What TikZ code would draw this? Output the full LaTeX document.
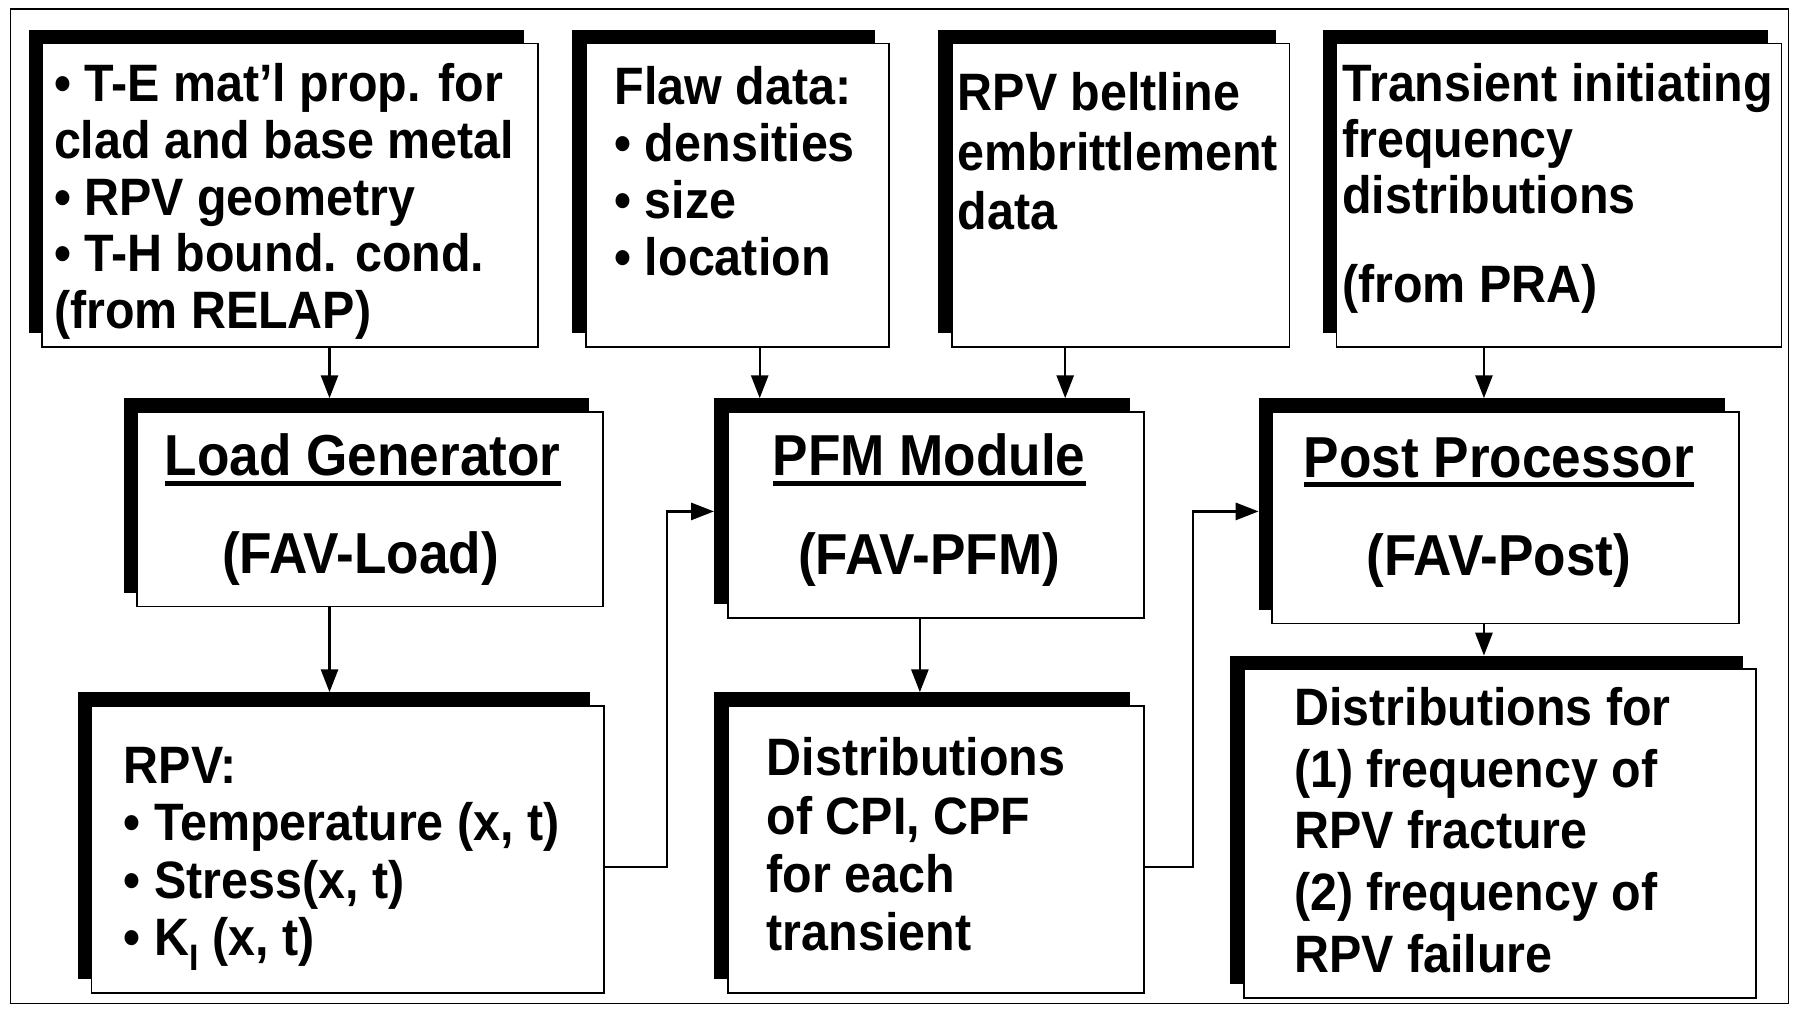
\documentclass[tikz,border=0pt]{standalone}
\usepackage{fontspec}
\setmainfont{Liberation Sans}[FakeStretch=0.92]
\usetikzlibrary{arrows.meta,shadows}
\newcommand\ulbox[1]{\setbox0\hbox{#1}\rlap{\rule[-9pt]{\wd0}{4.5pt}}\box0}
\begin{document}
\begin{tikzpicture}[x=1pt,y=-1pt,
  box/.style={draw=black, line width=1.5pt, fill=white, anchor=north west, inner sep=0pt, outer sep=0pt,
     drop shadow={shadow xshift=-12pt, shadow yshift=12pt, opacity=1, fill=black, draw=none}},
  txt/.style={anchor=base west, align=left, inner sep=0pt, font=\fontsize{46}{#1}\selectfont\bfseries},
  ttl/.style={anchor=base, inner sep=0pt, font=\fontsize{50.5}{54}\selectfont\bfseries},
  arr/.style={line width=2pt, -{Triangle[length=20pt,width=15pt]}},
  ]
\useasboundingbox (0,0) rectangle (1568,883);
\fill[white] (0,0) rectangle (1568,883);
\draw[line width=1.2pt] (9,8) rectangle (1563,877);

% boxes
\node[box, minimum width=433pt, minimum height=265pt] (b1) at (37,38) {};
\node[box, minimum width=265pt, minimum height=265pt] (b2) at (512,38) {};
\node[box, minimum width=295pt, minimum height=265pt] (b3) at (832,38) {};
\node[box, minimum width=389pt, minimum height=265pt] (b4) at (1168,38) {};
\node[box, minimum width=407pt, minimum height=170pt] (lg) at (120,360) {};
\node[box, minimum width=364pt, minimum height=180pt] (pfm) at (636,360) {};
\node[box, minimum width=408pt, minimum height=185pt] (pp) at (1112,360) {};
\node[box, minimum width=448pt, minimum height=251pt] (rpv) at (80,617) {};
\node[box, minimum width=364pt, minimum height=251pt] (dcpi) at (636,617) {};
\node[box, minimum width=448pt, minimum height=287pt] (dist) at (1087,585) {};

% texts (anchored at the baseline of the last line)
\node[txt=49.5] (t1) at (47,287) {• T-E mat’l prop. for\\clad and base metal\\• RPV geometry\\• T-H bound. cond.\\(from RELAP)};
\node[txt=50] (t2) at (537,241) {Flaw data:\\• densities\\• size\\• location};
\node[txt=52] (t3) at (837,201) {RPV beltline\\embrittlement\\data};
\node[txt=49] (t4) at (1173,264) {Transient initiating\\frequency\\distributions\\[28pt](from PRA)};
\node[txt=50] (t5) at (108,835) {RPV:\\• Temperature (x, t)\\• Stress(x, t)\\• K\textsubscript{I} (x, t)};
\node[txt=51] (t6) at (670,831) {Distributions\\of CPI, CPF\\for each\\transient};
\node[txt=54] (t7) at (1131,850) {Distributions for\\(1) frequency of\\RPV fracture\\(2) frequency of\\RPV failure};

\node[ttl] (lgt) at (317,416) {\ulbox{Load Generator}};
\node[ttl] (lgs) at (315,501) {(FAV-Load)};
\node[ttl] (pfmt) at (812,416) {\ulbox{PFM Module}};
\node[ttl] (pfms) at (812,502) {(FAV-PFM)};
\node[ttl] (ppt) at (1310,417) {\ulbox{Post Processor}};
\node[ttl] (pps) at (1310,503) {(FAV-Post)};

% arrow targets
\coordinate (lgin) at (288,348);
\coordinate (pfmin1) at (664,348);
\coordinate (pfmin2) at (931,348);
\coordinate (ppin) at (1297,348);
\coordinate (rpvin) at (288,605);
\coordinate (dcpiin) at (804,605);
\coordinate (distin) at (1297,573);
\coordinate (r1) at (583,758);
\coordinate (pfmside) at (624,447);
\coordinate (r2) at (1043,758);
\coordinate (ppside) at (1100,447);

\draw[arr] (b1.south -| lgin) -- (lgin);
\draw[arr] (b2.south -| pfmin1) -- (pfmin1);
\draw[arr] (b3.south -| pfmin2) -- (pfmin2);
\draw[arr] (b4.south -| ppin) -- (ppin);
\draw[arr] (lg.south -| rpvin) -- (rpvin);
\draw[arr] (pfm.south -| dcpiin) -- (dcpiin);
\draw[arr] (pp.south -| distin) -- (distin);
\draw[arr] (rpv.east |- r1) -- (r1) |- (pfmside);
\draw[arr] (dcpi.east |- r2) -- (r2) |- (ppside);
\end{tikzpicture}
\end{document}
